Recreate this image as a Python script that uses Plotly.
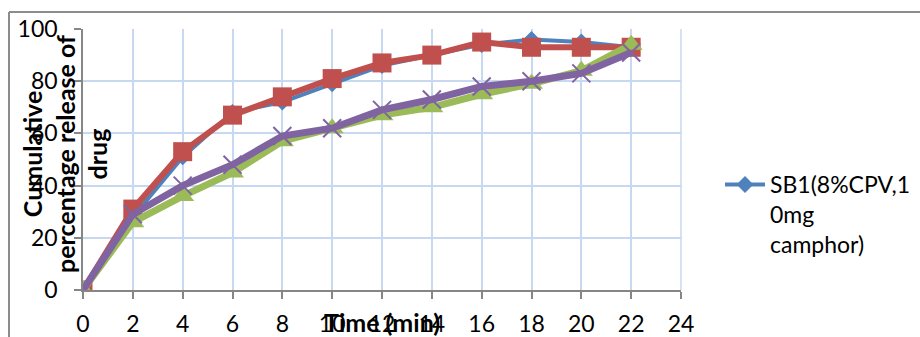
import plotly.graph_objects as go

time_min = [0, 2, 4, 6, 8, 10, 12, 14, 16, 18, 20, 22]
sb1 = [0, 28, 51, 68, 72, 79, 86, 90, 94, 96, 95, 93]
sb2 = [0, 31, 53, 67, 74, 81, 87, 90, 95, 93, 93, 93]
sb3 = [0, 26, 36, 45, 57, 62, 67, 70, 75, 79, 84, 94]
sb4 = [0, 29, 40, 48, 59, 62, 69, 73, 78, 80, 83, 91]
x_ticks = list(range(0, 25, 2))
y_ticks = list(range(0, 101, 20))

W, H = 920, 337
L, R, T, B = 83, 681, 29, 290

def px_x(p):
    return (p - L) / (R - L)

def px_y(p):
    return (B - p) / (B - T)

FONT = "Lato"
fig = go.Figure()
fig.add_trace(go.Scatter(x=time_min, y=sb1, mode="lines+markers",
                         name="SB1(8%CPV,1<br>0mg<br>camphor)",
                         line=dict(color="#4F81BD", width=4),
                         marker=dict(symbol="diamond", size=13, color="#4F81BD")))
fig.add_trace(go.Scatter(x=time_min, y=sb2, mode="lines+markers", name="SB2",
                         showlegend=False,
                         line=dict(color="#C0504D", width=6),
                         marker=dict(symbol="square", size=19, color="#C0504D")))
fig.add_trace(go.Scatter(x=time_min, y=sb3, mode="lines+markers", name="SB3",
                         showlegend=False,
                         line=dict(color="#9BBB59", width=7),
                         marker=dict(symbol="triangle-up", size=20, color="#9BBB59")))
fig.add_trace(go.Scatter(x=time_min, y=sb4, mode="lines+markers", name="SB4",
                         showlegend=False,
                         line=dict(color="#8064A2", width=7),
                         marker=dict(symbol="x-thin", size=18, color="#8064A2",
                                     line=dict(color="#8064A2", width=2))))

fig.update_layout(
    width=W, height=H, autosize=False,
    margin=dict(l=L, r=W - R, t=T, b=H - B, pad=0, autoexpand=False),
    paper_bgcolor="white", plot_bgcolor="white",
    font=dict(family=FONT, size=23, color="#000000"),
    legend=dict(x=px_x(720), y=px_y(163), xanchor="left", yanchor="top",
                valign="top", font=dict(family=FONT, size=23, color="#000000"),
                bgcolor="rgba(0,0,0,0)", itemwidth=40),
    xaxis=dict(range=[0, 24], tickvals=x_ticks, ticktext=[str(v) for v in x_ticks],
               showgrid=True, gridcolor="#C6D9F1", gridwidth=1.5,
               showline=True, linecolor="#868686", linewidth=1.5,
               ticks="outside", ticklen=7, tickcolor="#868686", tickwidth=1.5,
               ticklabelstandoff=6, zeroline=False, automargin=False),
    yaxis=dict(range=[0, 100], tickvals=y_ticks, ticktext=[str(v) for v in y_ticks],
               showgrid=True, gridcolor="#C6D9F1", gridwidth=1.5,
               showline=True, linecolor="#868686", linewidth=1.5,
               ticks="outside", ticklen=7, tickcolor="#868686", tickwidth=1.5,
               ticklabelstandoff=12, zeroline=False, automargin=False),
)

# right edge grid line at x=24 (plot border in light blue)
fig.add_shape(type="line", xref="paper", yref="paper", x0=1, x1=1, y0=0, y1=1,
              line=dict(color="#C6D9F1", width=1.5), layer="below")

# outer chart border (top and left visible)
fig.add_shape(type="line", xref="paper", yref="paper",
              x0=px_x(9), x1=px_x(925), y0=px_y(12), y1=px_y(12),
              line=dict(color="#8C8C8C", width=2))
fig.add_shape(type="line", xref="paper", yref="paper",
              x0=px_x(9), x1=px_x(9), y0=px_y(12), y1=px_y(345),
              line=dict(color="#8C8C8C", width=2))

fig.add_annotation(text="Cumulative<br>percentage release of<br>drug",
                   xref="paper", yref="paper", x=px_x(64), y=px_y(154),
                   xanchor="center", yanchor="middle", textangle=-90,
                   showarrow=False, align="center",
                   font=dict(family=FONT, size=25, color="#000000", weight="bold"))
fig.add_annotation(text="Time (min)", xref="paper", yref="paper",
                   x=px_x(382), y=px_y(322), xanchor="center", yanchor="middle",
                   showarrow=False,
                   font=dict(family=FONT, size=25, color="#000000", weight="bold"))

fig.write_html("out.html")
